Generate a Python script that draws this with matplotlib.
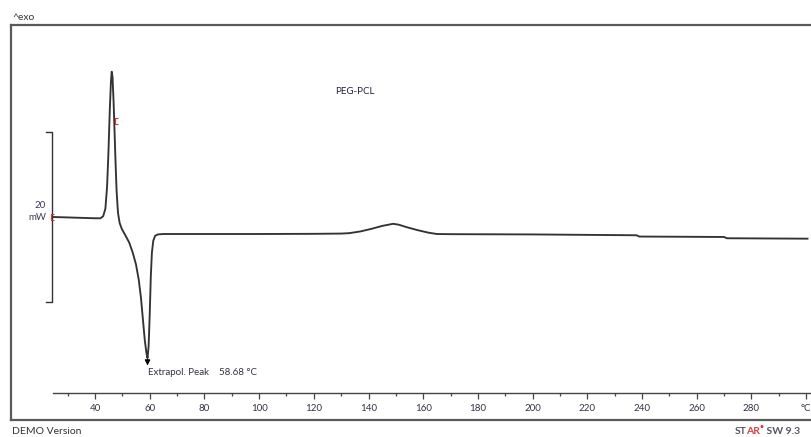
import matplotlib
matplotlib.use('Agg')
import matplotlib.pyplot as plt
from matplotlib.ticker import FixedLocator, MultipleLocator

plt.rcParams['font.family'] = ['Lato', 'DejaVu Sans']

# DSC trace, PEG-PCL (temperature in degC, heat flow in mW relative to start)
temperature = [24.6, 30, 35, 40, 42, 43, 43.8, 44.4, 44.9, 45.4, 45.8, 46.1,
               46.4, 46.8, 47.1, 47.5, 47.9, 48.4, 49.0, 49.8, 51.0, 52.5,
               53.8, 55.0, 56.0, 56.8, 57.5, 58.2, 58.8, 59.2, 59.6, 60.0,
               60.4, 60.8, 61.3, 62.0, 63.0, 65, 80, 100, 120, 130, 133,
               137, 141, 145, 149, 151, 154, 158, 162, 165, 170, 200, 238,
               239, 270, 271, 300.5]
heat_flow = [0.0, -0.05, -0.1, -0.15, -0.15, 0.1, 1.0, 3.5, 7.5, 12.5, 15.8, 17.1,
             16.5, 13.5, 10.5, 6.5, 3.0, 0.5, -0.7, -1.4, -2.1, -3.0,
             -4.2, -5.6, -7.4, -9.5, -12.0, -14.5, -16.0, -16.6, -15.2, -11.5,
             -7.0, -4.2, -2.8, -2.2, -2.05, -2.0, -2.0, -2.0, -1.98, -1.95, -1.9,
             -1.7, -1.4, -1.05, -0.8, -0.9, -1.2, -1.55, -1.85, -2.0, -2.02, -2.05, -2.15,
             -2.3, -2.35, -2.5, -2.55]

major_ticks = [40, 60, 80, 100, 120, 140, 160, 180, 200, 220, 240, 260, 280, 300]
major_labels = ['40', '60', '80', '100', '120', '140', '160', '180', '200',
                '220', '240', '260', '280', '°C']

peak_temp = 58.68
peak_label = f'Extrapol. Peak    {peak_temp:.2f} °C'
scale_mw = 20
limit_marks_t = [24.0, 47.4]
limit_marks_y = [0.0, 11.3]

W, H = 812, 437
fig = plt.figure(figsize=(W / 100, H / 100), dpi=100)

# outer frame (runs off the right edge like the export)
frame = fig.add_axes([11 / W, 17 / H, 819 / W, 395 / H])
frame.set_xticks([])
frame.set_yticks([])
frame.spines['right'].set_visible(False)
for s in ['left', 'top', 'bottom']:
    frame.spines[s].set_color('#5a5a5a')
    frame.spines[s].set_linewidth(1.6)

# data axes, bottom spine is the temperature axis
ax = fig.add_axes([53 / W, 44 / H, 777 / W, 368 / H])
ax.patch.set_alpha(0)
px_per_deg = 2.735
px_per_mw = 8.5
ax.set_xlim(24.64, 24.64 + 777 / px_per_deg)
ax.set_ylim(-176 / px_per_mw, 192 / px_per_mw)
for s in ['left', 'top', 'right']:
    ax.spines[s].set_visible(False)
ax.spines['bottom'].set_color('#444444')
ax.spines['bottom'].set_linewidth(1.0)
ax.set_yticks([])
ax.xaxis.set_major_locator(FixedLocator(major_ticks))
ax.set_xticklabels(major_labels)
ax.xaxis.set_minor_locator(MultipleLocator(10))
ax.tick_params(axis='x', which='major', direction='out', length=4, width=0.9,
               color='#444444', labelsize=7, labelcolor='#333344', pad=4)
ax.tick_params(axis='x', which='minor', direction='out', length=2, width=0.9,
               color='#444444')

ax.plot(temperature, heat_flow, color='#333333', lw=1.35, clip_on=False)

# scale bar
tr = ax.get_yaxis_transform()
half = scale_mw / 2
ax.plot([-0.009, -0.0013, -0.0013, -0.009], [half, half, -half, -half],
        color='#333333', lw=1.0, transform=tr, clip_on=False)
ax.text(-0.009, 1.4, f'{scale_mw}', transform=tr, ha='right', va='center',
        fontsize=7, color='#3b3b5c')
ax.text(-0.009, -0.1, 'mW', transform=tr, ha='right', va='center',
        fontsize=7, color='#3b3b5c')

# integration limit marks
bracket = [(1, -1), (0, -1), (0, 1), (1, 1)]
ax.plot(limit_marks_t, limit_marks_y, linestyle='none', marker=bracket,
        markersize=5, markerfacecolor='none', markeredgecolor='#e03030',
        markeredgewidth=0.8, clip_on=False)

# peak annotation
ax.annotate('', xy=(59.2, -17.8), xytext=(59.2, -16.4),
            arrowprops=dict(arrowstyle='-|>', color='black', lw=0.8,
                            mutation_scale=8))
ax.text(59.4, -18.3, peak_label, ha='left', va='center', fontsize=7,
        color='#333344')

ax.text(135.1, 14.8, 'PEG-PCL', ha='center', va='center', fontsize=7,
        color='#222244')

fig.text(12 / W, 1 - 17 / H, '^exo', ha='left', va='center', fontsize=7.5,
         color='#333333')
fig.text(12 / W, 1 - 431 / H, 'DEMO Version', ha='left', va='center',
         fontsize=7.5, color='#333333')

# software tag, pieces laid out one after another
renderer = fig.canvas.get_renderer()
x_px = 735
pieces = [('ST', '#555566', 7.5, 0, -1.2), ('AR', '#d84040', 7.5, 0, 0),
          ('•', '#e03030', 5, 4, 0), (' SW 9.3', '#555566', 7.5, 0, 0)]
for txt, col, size, rise, nudge in pieces:
    t = fig.text(x_px / W, (H - 431 + rise) / H, txt, ha='left', va='center',
                 fontsize=size, color=col, fontweight='bold')
    x_px += t.get_window_extent(renderer).width + nudge

fig.savefig('out.png', dpi=100)
